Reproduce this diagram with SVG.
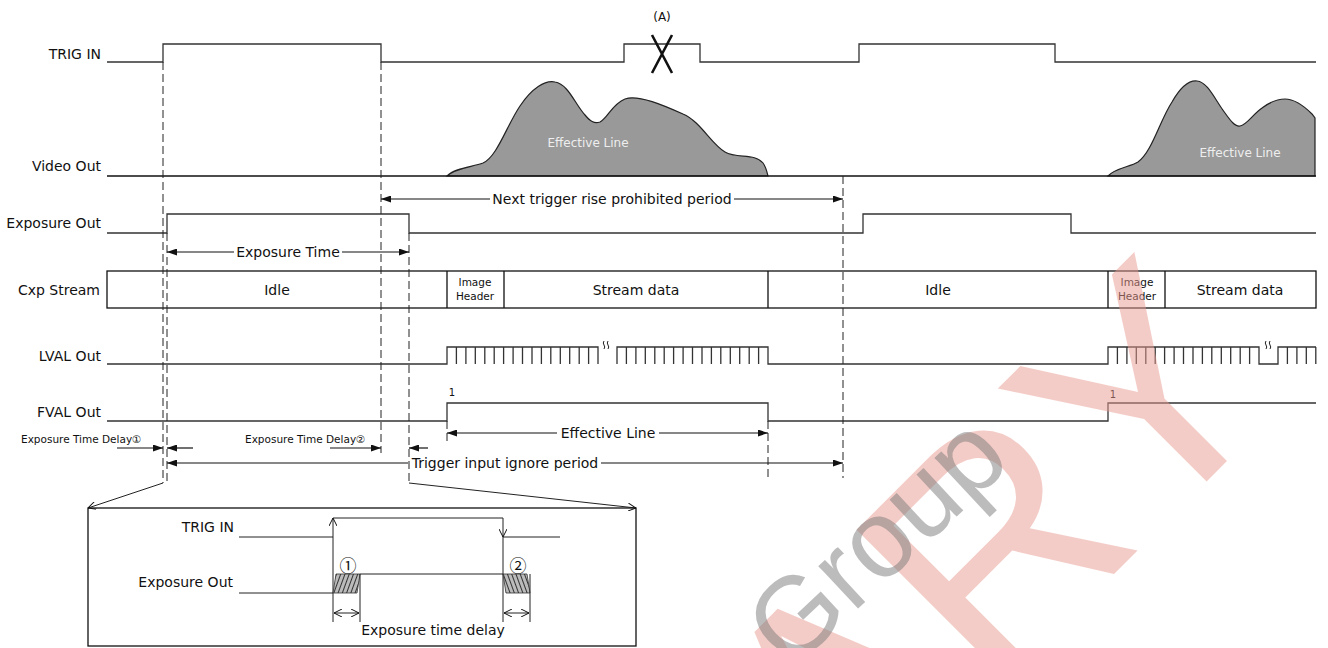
<svg xmlns="http://www.w3.org/2000/svg" width="1328" height="648" viewBox="0 0 1328 648">
<defs>
<style>
.sig{fill:none;stroke:#333;stroke-width:1.3}
.blk{fill:none;stroke:#111;stroke-width:1.3}
.dash{fill:none;stroke:#222;stroke-width:1;stroke-dasharray:8,4}
.arr{fill:none;stroke:#111;stroke-width:1.2}
.thin{fill:none;stroke:#222;stroke-width:1}
.lbl{font-family:"DejaVu Sans","Noto Sans CJK KR",sans-serif;font-size:14px;text-anchor:end;fill:#111}
.txt{font-family:"DejaVu Sans","Noto Sans CJK KR",sans-serif;font-size:14px;text-anchor:middle;fill:#111}
.sm{font-family:"DejaVu Sans","Noto Sans CJK KR",sans-serif;font-size:10.5px;fill:#111}
.num{font-family:"Noto Sans CJK KR","DejaVu Sans",sans-serif;font-size:17px;text-anchor:middle;fill:#111}
.wave{fill:#999;stroke:#222;stroke-width:1.2}
.wtxt{font-family:"DejaVu Sans",sans-serif;font-size:12px;text-anchor:middle;fill:#eee}
</style>
<marker id="ah" viewBox="0 0 10 7" refX="10" refY="3.5" markerWidth="11" markerHeight="7" markerUnits="userSpaceOnUse" orient="auto-start-reverse"><path d="M0,0 L10,3.5 L0,7 z" fill="#111"/></marker>
<marker id="oh" viewBox="0 0 8 8" refX="8" refY="4" markerWidth="8" markerHeight="8" markerUnits="userSpaceOnUse" orient="auto-start-reverse"><path d="M0,0 L8,4 L0,8" fill="none" stroke="#111" stroke-width="1"/></marker>
<pattern id="hatch" patternUnits="userSpaceOnUse" width="4" height="4" patternTransform="rotate(20)"><rect width="4" height="4" fill="#bbb"/><line x1="0" y1="0" x2="0" y2="4" stroke="#333" stroke-width="2"/></pattern>
<pattern id="hatch2" patternUnits="userSpaceOnUse" width="4" height="4" patternTransform="rotate(-20)"><rect width="4" height="4" fill="#bbb"/><line x1="0" y1="0" x2="0" y2="4" stroke="#333" stroke-width="2"/></pattern>
</defs>
<rect width="1328" height="648" fill="#fff"/>

<g id="trig-in">
<text class="lbl" x="101" y="59">TRIG IN</text>
<polyline class="sig" points="107,62 163,62 163,44 381,44 381,62 624,62 624,44 700,44 700,62 859,62 859,44 1055,44 1055,62 1316,62"/>
<text class="txt" x="662" y="21" style="font-size:12px">(A)</text>
<path d="M652,35 L672,73 M672,35 L652,73" stroke="#111" stroke-width="2.6" fill="none"/>
</g>

<g id="video-out">
<text class="lbl" x="101" y="171">Video Out</text>
<path class="wave" d="M447,176 C455,168 472,167 483,163 C497,157 507,125 520,106 C532,88 545,80 555,82 C568,84 575,104 585,115 C590,121 594,124 600,122 C608,118 612,104 625,99 C638,94 665,106 683,114 C700,121 712,145 725,152 C737,159 755,153 763,163 C766,167 767,172 768,176 Z"/>
<text class="wtxt" x="588" y="147">Effective Line</text>
<path class="wave" d="M1108,176 C1115,168 1130,167 1138,162 C1152,152 1160,120 1172,102 C1180,88 1188,80 1197,81 C1208,82 1215,100 1225,113 C1230,120 1235,127 1240,126 C1247,125 1252,115 1262,108 C1270,102 1278,99 1285,99 C1295,99 1305,107 1312,114 L1315,118 L1315,176 Z"/>
<text class="wtxt" x="1240" y="157">Effective Line</text>
<line x1="107" y1="176" x2="1316" y2="176" stroke="#111" stroke-width="1.4"/>
</g>

<g id="exposure-out">
<text class="lbl" x="101" y="228">Exposure Out</text>
<polyline class="sig" points="107,233 167,233 167,214 409,214 409,233 863,233 863,214 1071,214 1071,233 1316,233"/>
</g>

<g id="cxp-stream">
<text class="lbl" x="100" y="295">Cxp Stream</text>
<rect x="107" y="271" width="1209" height="37" class="blk"/>
<path class="blk" d="M447,271 V308 M504,271 V308 M768,271 V308 M1108,271 V308 M1165,271 V308"/>
<text class="txt" x="277" y="295">Idle</text>
<text class="sm" x="475" y="286" text-anchor="middle">Image</text>
<text class="sm" x="475" y="300" text-anchor="middle">Header</text>
<text class="txt" x="636" y="295">Stream data</text>
<text class="txt" x="938" y="295">Idle</text>
<text class="sm" x="1137" y="286" text-anchor="middle">Image</text>
<text class="sm" x="1137" y="300" text-anchor="middle">Header</text>
<text class="txt" x="1240" y="295">Stream data</text>
</g>

<g id="lval-out">
<text class="lbl" x="101" y="361">LVAL Out</text>
<polyline class="sig" points="107,364 447,364 447,347 598,347 598,364"/>
<polyline class="sig" points="617,364 617,347 768,347 768,364 1108,364 1108,347 1259,347 1259,364 1278,364 1278,347 1316,347"/>
<path class="sig" d="M456.4,347V364M465.9,347V364M475.3,347V364M484.8,347V364M494.2,347V364M503.6,347V364M513.1,347V364M522.5,347V364M532,347V364M541.4,347V364M550.8,347V364M560.3,347V364M569.7,347V364M579.2,347V364M588.6,347V364
M626.4,347V364M635.9,347V364M645.3,347V364M654.8,347V364M664.2,347V364M673.6,347V364M683.1,347V364M692.5,347V364M702,347V364M711.4,347V364M720.8,347V364M730.3,347V364M739.7,347V364M749.2,347V364M758.6,347V364
M1117.4,347V364M1126.9,347V364M1136.3,347V364M1145.8,347V364M1155.2,347V364M1164.6,347V364M1174.1,347V364M1183.5,347V364M1193,347V364M1202.4,347V364M1211.8,347V364M1221.3,347V364M1230.7,347V364M1240.2,347V364M1249.6,347V364
M1287.4,347V364M1296.9,347V364M1306.3,347V364M1315.8,347V364"/>
<path class="thin" d="M604,341 q-1.5,2 0,4 q1.5,2 0,4 M608,341 q-1.5,2 0,4 q1.5,2 0,4"/>
<path class="thin" d="M1266,341 q-1.5,2 0,4 q1.5,2 0,4 M1270,341 q-1.5,2 0,4 q1.5,2 0,4"/>
</g>

<g id="fval-out">
<text class="lbl" x="101" y="417">FVAL Out</text>
<polyline class="sig" points="107,421 447,421 447,403 768,403 768,421 1108,421 1108,403 1316,403"/>
<text class="sm" x="452" y="396" text-anchor="middle" style="font-size:10px">1</text>
<text class="sm" x="1113" y="398" text-anchor="middle" style="font-size:10px">1</text>
</g>

<g id="connectors">
<path class="dash" d="M163,62 V483 M167,233 V483 M381,62 V453 M409,233 V483 M843,176 V478 M447,421 V441 M768,421 V478"/>
<line class="arr" x1="490" y1="199" x2="381" y2="199" marker-end="url(#ah)"/>
<line class="arr" x1="734" y1="199" x2="843" y2="199" marker-end="url(#ah)"/>
<text class="txt" x="612" y="204">Next trigger rise prohibited period</text>
<line class="arr" x1="234" y1="252" x2="167" y2="252" marker-end="url(#ah)"/>
<line class="arr" x1="342" y1="252" x2="409" y2="252" marker-end="url(#ah)"/>
<text class="txt" x="288" y="257">Exposure Time</text>
<line class="arr" x1="557" y1="433" x2="447" y2="433" marker-end="url(#ah)"/>
<line class="arr" x1="659" y1="433" x2="768" y2="433" marker-end="url(#ah)"/>
<text class="txt" x="608" y="438">Effective Line</text>
<text class="sm" x="21" y="443">Exposure Time Delay①</text>
<text class="sm" x="245" y="443">Exposure Time Delay②</text>
<line class="arr" x1="117" y1="448" x2="163" y2="448" marker-end="url(#ah)"/>
<line class="arr" x1="193" y1="448" x2="167" y2="448" marker-end="url(#ah)"/>
<line class="arr" x1="330" y1="448" x2="381" y2="448" marker-end="url(#ah)"/>
<line class="arr" x1="428" y1="448" x2="409" y2="448" marker-end="url(#ah)"/>
<line class="arr" x1="408" y1="463" x2="167" y2="463" marker-end="url(#ah)"/>
<line class="arr" x1="601" y1="463" x2="843" y2="463" marker-end="url(#ah)"/>
<text class="txt" x="505" y="468">Trigger input ignore period</text>
<line class="thin" x1="163" y1="483" x2="88" y2="508" marker-end="url(#oh)"/>
<line class="thin" x1="409" y1="483" x2="636" y2="508" marker-end="url(#oh)"/>
</g>

<g id="inset">
<rect x="88" y="508" width="548" height="138" class="blk"/>
<text class="lbl" x="234" y="532">TRIG IN</text>
<text class="lbl" x="233" y="587">Exposure Out</text>
<polyline class="thin" points="239,537 333,537"/>
<line class="thin" x1="333" y1="622" x2="333" y2="518" marker-end="url(#oh)"/>
<polyline class="thin" points="333,518 503,518"/>
<line class="thin" x1="503" y1="518" x2="503" y2="537" marker-end="url(#oh)"/>
<line class="thin" x1="503" y1="537" x2="503" y2="622"/>
<polyline class="thin" points="503,537 560,537"/>
<polyline class="thin" points="239,593 333,593"/>
<polygon points="336,574 360,574 357,593 333,593" fill="url(#hatch)" stroke="#333" stroke-width="0.8"/>
<polygon points="503,574 527,574 530,593 506,593" fill="url(#hatch2)" stroke="#333" stroke-width="0.8"/>
<line class="thin" x1="360" y1="574" x2="503" y2="574"/>
<line class="thin" x1="360" y1="574" x2="360" y2="622"/>
<line class="thin" x1="530" y1="574" x2="530" y2="622"/>
<line class="thin" x1="334" y1="613" x2="359" y2="613" marker-start="url(#oh)" marker-end="url(#oh)"/>
<line class="thin" x1="504" y1="613" x2="529" y2="613" marker-start="url(#oh)" marker-end="url(#oh)"/>
<text class="num" x="348" y="572">①</text>
<text class="num" x="518" y="572">②</text>
<text class="txt" x="433" y="635">Exposure time delay</text>
</g>

<g id="watermark" style="pointer-events:none">
<text transform="translate(1290,398) rotate(-45)" font-family="Liberation Sans, sans-serif" font-size="310" text-anchor="end" fill="#e9998f" fill-opacity="0.5">ARY</text>
<text transform="translate(790,672) rotate(-43)" font-family="Liberation Sans, sans-serif" font-size="110" fill="#7a7a7a" fill-opacity="0.5">Group</text>
</g>
</svg>
